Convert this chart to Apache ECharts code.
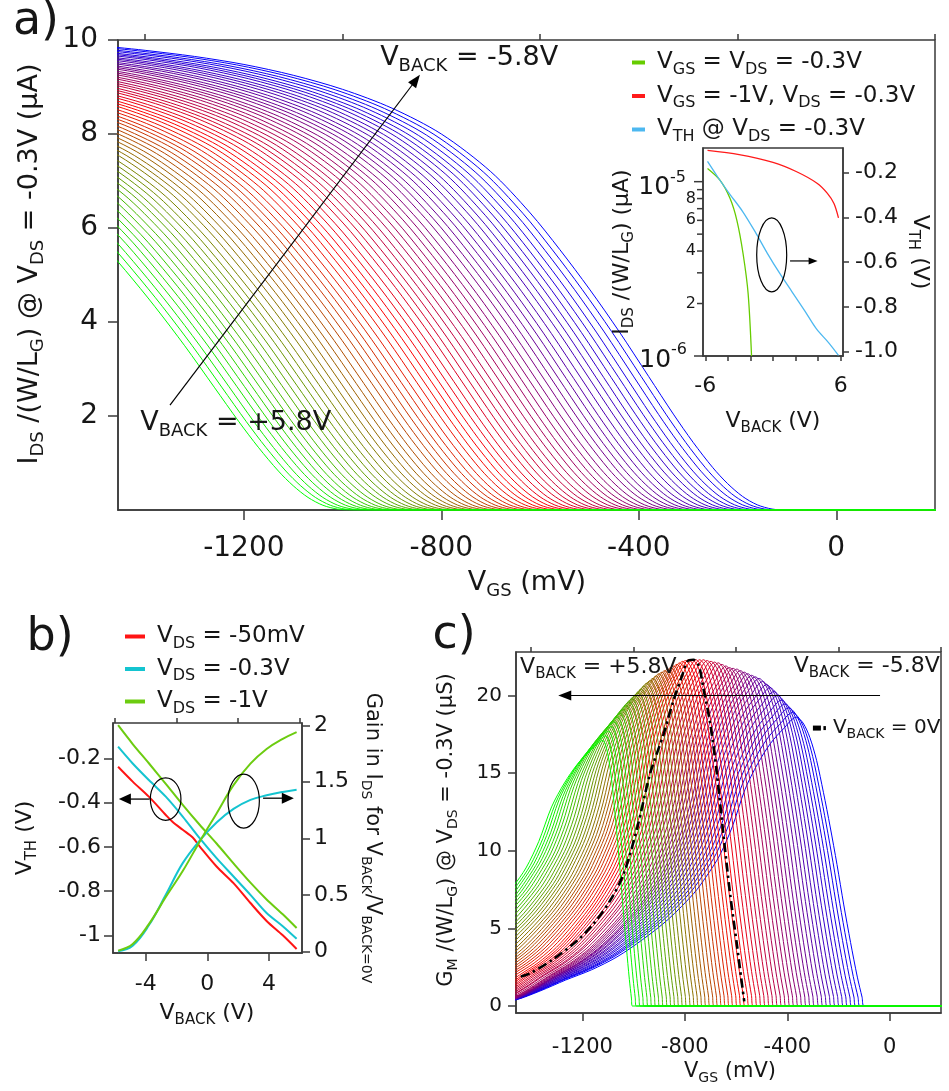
<!DOCTYPE html>
<html><head><meta charset="utf-8">
<script src="https://cdn.jsdelivr.net/npm/echarts@6/dist/echarts.min.js"></script>
<style>html,body{margin:0;padding:0;background:#fff}#chart{width:949px;height:1091px}</style>
</head><body><div id="chart"></div>
<script>
// ================= DATA =================
// back-gate voltages of the curve family (V), green (+5.8) -> red (0) -> blue (-5.8)
const vBack = [5.8,5.6,5.4,5.2,5.0,4.8,4.6,4.4,4.2,4.0,3.8,3.6,3.4,3.2,3.0,2.8,2.6,2.4,2.2,2.0,
  1.8,1.6,1.4,1.2,1.0,0.8,0.6,0.4,0.2,0.0,-0.2,-0.4,-0.6,-0.8,-1.0,-1.2,-1.4,-1.6,-1.8,-2.0,
  -2.2,-2.4,-2.6,-2.8,-3.0,-3.2,-3.4,-3.6,-3.8,-4.0,-4.2,-4.4,-4.6,-4.8,-5.0,-5.2,-5.4,-5.6,-5.8];

// Panel a: I_DS vs V_GS read on the V_BACK=-5.8V (blue) curve (mV, uA)
const aCurveV = [-1500,-1455,-1400,-1300,-1200,-1100,-1000,-900,-800,-700,-620,-560,-500,-440,-380,-330,-290,-250,-220,-190,-160,-130,-100,1200];
const aCurveI = [9.88,9.84,9.78,9.65,9.48,9.25,8.95,8.55,8.00,7.20,6.32,5.54,4.70,3.80,2.84,2.04,1.44,0.90,0.56,0.29,0.11,0.02,0.0,0.0];
// per-curve offset along V_GS relative to the blue curve (mV) and current ratio
const aShift = [-880,-865,-850,-834,-819,-804,-789,-774,-759,-743,
  -728,-713,-698,-683,-668,-652,-637,-622,-607,-592,
  -577,-561,-546,-531,-516,-501,-486,-470,-455,-440,
  -425,-410,-395,-379,-364,-349,-334,-319,-303,-288,
  -273,-258,-243,-228,-212,-197,-182,-167,-152,-137,
  -121,-106,-91,-76,-61,-46,-30,-15,0];
const aGain = [0.920,0.921,0.923,0.924,0.926,0.927,0.928,0.930,0.931,0.932,
  0.934,0.935,0.937,0.938,0.939,0.941,0.942,0.943,0.945,0.946,
  0.948,0.949,0.950,0.952,0.953,0.954,0.956,0.957,0.959,0.960,
  0.961,0.963,0.964,0.966,0.967,0.968,0.970,0.971,0.972,0.974,
  0.975,0.977,0.978,0.979,0.981,0.982,0.983,0.985,0.986,0.988,
  0.989,0.990,0.992,0.993,0.994,0.996,0.997,0.999,1.000];

// Inset of panel a
const insGreenX = [-5.8,-4.7,-3.8,-3.2,-2.65,-2.2,-1.9];
const insGreenI = [1.19e-5,1.02e-5,8.0e-6,6.0e-6,3.86e-6,2.27e-6,1.0e-6];
const insRedX = [-5.8,-3.0,0.0,2.1,3.9,4.8,5.4,5.8];
const insRedI = [1.51e-5,1.43e-5,1.29e-5,1.14e-5,9.8e-6,8.6e-6,7.5e-6,6.2e-6];
const insVthX = [-5.8,-4.85,-3.8,-2.7,-1.6,-0.5,0.6,1.7,2.8,3.85,4.9,5.8];
const insVth = [-0.150,-0.223,-0.298,-0.373,-0.463,-0.561,-0.651,-0.734,-0.817,-0.899,-0.959,-1.017];

// Panel b
const bRedX = [-5.8,-4.85,-3.8,-2.7,-2.25,-1.6,-0.95,-0.5,0.6,1.7,2.8,3.85,4.9,5.8];
const bVthRed = [-0.238,-0.305,-0.373,-0.456,-0.488,-0.523,-0.558,-0.598,-0.689,-0.764,-0.854,-0.935,-1.000,-1.062];
const bX = [-5.8,-4.85,-3.8,-2.7,-1.6,-0.5,0.6,1.7,2.8,3.85,4.9,5.8];
const bVthCyan = [-0.147,-0.223,-0.298,-0.373,-0.463,-0.561,-0.651,-0.734,-0.817,-0.899,-0.959,-1.016];
const bVthGreen = [-0.050,-0.135,-0.222,-0.315,-0.410,-0.500,-0.585,-0.675,-0.762,-0.838,-0.905,-0.967];
const bGainGreen = [0.006,0.065,0.24,0.48,0.71,0.97,1.22,1.47,1.66,1.79,1.88,1.94];
const bGainCyan = [0.0,0.05,0.23,0.50,0.78,0.98,1.14,1.26,1.34,1.38,1.41,1.43];

// Panel c: per-curve zero point, peak position and peak height of G_M
const cZero = [-1005,-990,-975,-960,-944,-929,-914,-899,-884,-868,
  -853,-838,-823,-808,-793,-777,-762,-747,-732,-717,
  -702,-686,-671,-656,-641,-626,-611,-595,-580,-565,
  -549,-533,-517,-501,-485,-469,-453,-437,-421,-405,
  -389,-373,-357,-341,-325,-309,-293,-276,-260,-244,
  -228,-212,-196,-180,-164,-148,-132,-116,-100];
const cPeakV = [-1120,-1108,-1097,-1085,-1074,-1062,-1051,-1039,-1028,-1016,
  -1005,-993,-981,-970,-958,-947,-935,-924,-912,-901,
  -889,-878,-866,-854,-843,-831,-820,-808,-797,-785,
  -771,-756,-742,-727,-713,-698,-684,-669,-655,-640,
  -626,-612,-597,-583,-568,-554,-539,-525,-510,-496,
  -481,-467,-452,-438,-423,-409,-394,-380,-365];
const cPeakH = [17.1,17.4,17.7,18.0,18.3,18.6,18.85,19.1,19.35,19.6,
  19.8,20.0,20.2,20.4,20.6,20.8,20.95,21.1,21.25,21.4,
  21.5,21.6,21.7,21.8,21.9,22.0,22.1,22.2,22.25,22.3,
  22.3,22.3,22.3,22.3,22.25,22.2,22.15,22.1,22.0,21.9,
  21.8,21.75,21.7,21.6,21.5,21.4,21.3,21.2,21.1,20.9,
  20.7,20.5,20.25,20.0,19.7,19.45,19.2,18.9,18.6];
const cLeftW = [1.00,0.985,0.97,0.955,0.94,0.925,0.91,0.895,0.88,0.865,
  0.85,0.84,0.83,0.82,0.81,0.80,0.79,0.78,0.775,0.765,
  0.76,0.755,0.75,0.745,0.74,0.735,0.73,0.725,0.72,0.72,
  0.725,0.73,0.735,0.74,0.745,0.75,0.755,0.76,0.77,0.775,
  0.78,0.79,0.80,0.81,0.82,0.835,0.85,0.86,0.875,0.885,
  0.90,0.91,0.925,0.935,0.95,0.96,0.975,0.99,1.00];
// shared G_M shape read on the curves: falling edge (fraction of peak->zero span) and left flank (mV before peak)
const cEdgeT = [0,0.03,0.1,0.2,0.3,0.4,0.5,0.6,0.7,0.8,0.9,1.0];
const cEdgeG = [0,0.03,0.1,0.22,0.35,0.49,0.62,0.74,0.85,0.93,0.98,1.0];
const cLeftD = [0,50,100,150,200,250,300,350,400,500,600,700,800,900,1000,1100,1200,1400];
const cLeftG = [1,0.96,0.91,0.84,0.75,0.62,0.52,0.45,0.39,0.30,0.23,0.17,0.125,0.09,0.052,0.02,0.01,0.0];
// V_BACK = 0V curve (dash-dot)
const dashV = [-1440,-1404,-1315,-1221,-1156,-1091,-1039,-987,-935,-883,-844,-810,-790,-766,-745,-728,-701,-675,-649,-623,-597,-580,-568];
const dashG = [1.9,2.1,3.0,4.2,5.3,6.8,8.5,11.4,15.0,17.5,19.7,21.3,22.2,22.3,21.9,20.5,18.2,15.0,11.0,7.2,4.0,1.8,0.3];

// ================= STYLE =================
const FONT = 'DejaVu Sans';
const TXT = '#161616';
const AXC = '#3a3a3a';
function rich(F) {
  return {
    n: {fontFamily: FONT, fontSize: F, fill: TXT, color: TXT, verticalAlign: 'middle'},
    s: {fontFamily: FONT, fontSize: Math.round(F * 0.68), fill: TXT, color: TXT, verticalAlign: 'middle', padding: [Math.round(F * 0.62), 0, 0, 0]},
    p: {fontFamily: FONT, fontSize: Math.round(F * 0.64), fill: TXT, color: TXT, verticalAlign: 'middle', padding: [0, 0, Math.round(F * 0.8), 0]}
  };
}
function famColor(k) {
  const t = k / 58; let r, g, b;
  if (t <= 0.5) { const u = t / 0.5; r = 255 * u; g = 255 * (1 - u); b = 0; }
  else { const u = (t - 0.5) / 0.5; r = 255 * (1 - u); g = 0; b = 255 * u; }
  return 'rgb(' + Math.round(r) + ',' + Math.round(g) + ',' + Math.round(b) + ')';
}
function valAxis(o) {
  return Object.assign({
    type: 'value', scale: false,
    axisLine: {show: true, onZero: false, lineStyle: {color: AXC, width: 1.5}},
    axisTick: {show: true, lineStyle: {color: AXC, width: 1.5}},
    axisLabel: {show: true, color: TXT, fontFamily: FONT},
    splitLine: {show: false}
  }, o);
}
function ticks(vals, len) { return {show: true, customValues: vals, length: len, lineStyle: {color: AXC, width: 1.5}}; }
function labels(vals, size, margin, fmt) {
  return {show: true, customValues: vals, fontSize: size, margin: margin, color: TXT, fontFamily: FONT,
    formatter: fmt || (v => String(v))};
}
const noLabel = {show: false};
const noLine = {show: false, onZero: false};

const chart = echarts.init(document.getElementById('chart'), null, {renderer: 'canvas'});

const xAxis = [
  valAxis({gridIndex: 0, min: -1455, max: 200, axisTick: ticks([-1200,-800,-400,0], 10), axisLabel: labels([-1200,-800,-400,0], 28, 25)}),
  valAxis({gridIndex: 0, min: -1455, max: 200, axisLine: noLine, axisTick: ticks([-1400,-1000,-600,-200,200], 6), axisLabel: noLabel}),
  valAxis({gridIndex: 1, min: -6.2, max: 6.2, axisTick: ticks([-6,-4,-2,0,2,4,6], 5), axisLabel: labels([-6,6], 22, 19)}),
  valAxis({gridIndex: 2, min: -6.13, max: 6.15, axisTick: ticks([-4,0,4], 8), axisLabel: labels([-4,0,4], 22, 20)}),
  valAxis({gridIndex: 2, min: -6.13, max: 6.15, axisLine: noLine, axisTick: ticks([-6,-2,2,6], 5), axisLabel: noLabel}),
  valAxis({gridIndex: 3, min: -1459, max: 200, axisTick: ticks([-1200,-800,-400,0], 8), axisLabel: labels([-1200,-800,-400,0], 21, 24)}),
  valAxis({gridIndex: 3, min: -1459, max: 200, axisLine: noLine, axisTick: ticks([-1400,-1000,-600,-200,200], 5), axisLabel: noLabel})
];
const yAxis = [
  valAxis({gridIndex: 0, min: 0, max: 10, axisTick: ticks([2,4,6,8,10], 10), axisLabel: labels([2,4,6,8,10], 28, 20)}),
  {gridIndex: 1, type: 'log', logBase: 10, min: 1e-6, max: 1.56e-5, axisLine: {show: true, onZero: false, lineStyle: {color: AXC, width: 1.5}}, axisTick: {show: false}, axisLabel: {show: false}, splitLine: {show: false}, minorTick: {show: false}},
  valAxis({gridIndex: 1, position: 'right', min: -1.02, max: -0.09, axisTick: ticks([-1,-0.8,-0.6,-0.4,-0.2], 6), axisLabel: labels([-1,-0.8,-0.6,-0.4,-0.2], 22, 12, v => v.toFixed(1))}),
  valAxis({gridIndex: 2, min: -1.08, max: -0.04, axisTick: ticks([-1,-0.8,-0.6,-0.4,-0.2], 9), axisLabel: labels([-1,-0.8,-0.6,-0.4,-0.2], 22, 12, v => (v === -1 ? '-1' : v.toFixed(1)))}),
  valAxis({gridIndex: 2, position: 'right', min: -0.015, max: 2.02, axisTick: ticks([0,0.5,1,1.5,2], 8), axisLabel: labels([0,0.5,1,1.5,2], 22, 12)}),
  valAxis({gridIndex: 3, min: -0.45, max: 22.8, axisTick: ticks([0,5,10,15,20], 8), axisLabel: labels([0,5,10,15,20], 20, 14)})
];

const series = [];
// Panel a family (blue first so green is on top)
for (let k = 58; k >= 0; k--) {
  series.push({
    type: 'line', name: 'a_' + vBack[k], xAxisIndex: 0, yAxisIndex: 0, silent: true,
    data: aCurveV.map((v, j) => [v + aShift[k], aCurveI[j] * aGain[k]]),
    symbol: 'none', smooth: 0.3, lineStyle: {width: 1, color: famColor(k)}, z: 2
  });
}
// Inset
const LEG_A = {
  'VGS = VDS = -0.3V': '{n|V}{s|GS}{n| = V}{s|DS}{n| = -0.3V}',
  'VGS = -1V, VDS = -0.3V': '{n|V}{s|GS}{n| = -1V, V}{s|DS}{n| = -0.3V}',
  'VTH @ VDS = -0.3V': '{n|V}{s|TH}{n| @ V}{s|DS}{n| = -0.3V}'
};
series.push({type: 'line', name: 'VGS = VDS = -0.3V', xAxisIndex: 2, yAxisIndex: 1, silent: true, color: '#66cc00',
  data: insGreenX.map((x, i) => [x, insGreenI[i]]), symbol: 'none', smooth: 0.3, lineStyle: {width: 1.3, color: '#66cc00'}, z: 3});
series.push({type: 'line', name: 'VGS = -1V, VDS = -0.3V', xAxisIndex: 2, yAxisIndex: 1, silent: true, color: '#ff1a1a',
  data: insRedX.map((x, i) => [x, insRedI[i]]), symbol: 'none', smooth: 0.3, lineStyle: {width: 1.3, color: '#ff1a1a'}, z: 3});
series.push({type: 'line', name: 'VTH @ VDS = -0.3V', xAxisIndex: 2, yAxisIndex: 2, silent: true, color: '#4db8f0',
  data: insVthX.map((x, i) => [x, insVth[i]]), symbol: 'none', smooth: 0.3, lineStyle: {width: 1.3, color: '#4db8f0'}, z: 3});
// Panel b
const LEG_B = {
  'VDS = -50mV': '{n|V}{s|DS}{n| = -50mV}',
  'VDS = -0.3V': '{n|V}{s|DS}{n| = -0.3V}',
  'VDS = -1V': '{n|V}{s|DS}{n| = -1V}'
};
const bRed = '#ff1414', bCyan = '#14c4d0', bGreen = '#6ccc10';
series.push({type: 'line', name: 'VDS = -50mV', xAxisIndex: 3, yAxisIndex: 3, silent: true, color: bRed,
  data: bRedX.map((x, i) => [x, bVthRed[i]]), symbol: 'none', smooth: 0.3, lineStyle: {width: 2, color: bRed}, z: 3});
series.push({type: 'line', name: 'VDS = -0.3V', xAxisIndex: 3, yAxisIndex: 3, silent: true, color: bCyan,
  data: bX.map((x, i) => [x, bVthCyan[i]]), symbol: 'none', smooth: 0.3, lineStyle: {width: 2, color: bCyan}, z: 3});
series.push({type: 'line', name: 'VDS = -1V', xAxisIndex: 3, yAxisIndex: 3, silent: true, color: bGreen,
  data: bX.map((x, i) => [x, bVthGreen[i]]), symbol: 'none', smooth: 0.3, lineStyle: {width: 2, color: bGreen}, z: 3});
series.push({type: 'line', name: 'VDS = -0.3V', xAxisIndex: 3, yAxisIndex: 4, silent: true, color: bCyan,
  data: bX.map((x, i) => [x, bGainCyan[i]]), symbol: 'none', smooth: 0.4, lineStyle: {width: 2, color: bCyan}, z: 3});
series.push({type: 'line', name: 'VDS = -1V', xAxisIndex: 3, yAxisIndex: 4, silent: true, color: bGreen,
  data: bX.map((x, i) => [x, bGainGreen[i]]), symbol: 'none', smooth: 0.4, lineStyle: {width: 2, color: bGreen}, z: 3});
// Panel c family
for (let k = 58; k >= 0; k--) {
  const pts = [];
  for (let j = cLeftD.length - 1; j >= 1; j--) pts.push([cPeakV[k] - cLeftD[j] * cLeftW[k], cPeakH[k] * cLeftG[j]]);
  pts.push([cPeakV[k], cPeakH[k]]);
  for (let j = cEdgeT.length - 2; j >= 0; j--) pts.push([cZero[k] - cEdgeT[j] * (cZero[k] - cPeakV[k]), cPeakH[k] * cEdgeG[j]]);
  pts.push([260, 0]);
  series.push({type: 'line', name: 'c_' + vBack[k], xAxisIndex: 5, yAxisIndex: 5, silent: true,
    data: pts, symbol: 'none', smooth: 0.3, lineStyle: {width: 1, color: famColor(k)}, z: 2});
}
series.push({type: 'line', name: 'VBACK = 0V', xAxisIndex: 5, yAxisIndex: 5, silent: true,
  data: dashV.map((v, i) => [v, dashG[i]]), symbol: 'none', smooth: 0.3,
  lineStyle: {width: 2.6, color: '#000', type: [9, 4, 2.5, 4]}, z: 5});

const option = {
  animation: false,
  backgroundColor: '#fff',
  grid: [
    {left: 118, top: 40, width: 817, height: 470, show: true, borderColor: AXC, borderWidth: 1.5, backgroundColor: 'transparent', containLabel: false},
    {left: 703, top: 148, width: 140, height: 208, show: true, borderColor: AXC, borderWidth: 1.5, backgroundColor: '#fff', containLabel: false},
    {left: 113, top: 723, width: 189, height: 230, show: true, borderColor: AXC, borderWidth: 1.5, containLabel: false},
    {left: 516, top: 652, width: 425, height: 361, show: true, borderColor: AXC, borderWidth: 1.5, containLabel: false}
  ],
  xAxis: xAxis, yAxis: yAxis,
  legend: [
    {data: Object.keys(LEG_A), orient: 'vertical', left: 632, top: 51, padding: 0, itemGap: 7, itemWidth: 13, itemHeight: 4,
      icon: 'rect', selectedMode: false, formatter: n => LEG_A[n],
      textStyle: {fontFamily: FONT, fontSize: 23, color: TXT, padding: [0, 0, 0, 7], rich: rich(23)}},
    {data: Object.keys(LEG_B), orient: 'vertical', left: 125, top: 625, padding: 0, itemGap: 6, itemWidth: 20, itemHeight: 4,
      icon: 'rect', selectedMode: false, formatter: n => LEG_B[n],
      textStyle: {fontFamily: FONT, fontSize: 23, color: TXT, padding: [0, 0, 0, 7], rich: rich(23)}}
  ],
  series: series
};
chart.setOption(option);

// ================= annotations (positioned through the axes) =================
function P(xi, yi, x, y) { return chart.convertToPixel({xAxisIndex: xi, yAxisIndex: yi}, [x, y]); }
function text(x, y, str, F, align, rot) {
  return {type: 'text', x: x, y: y, rotation: rot || 0, z: 100, silent: true,
    style: {text: str, rich: rich(F), fontFamily: FONT, fontSize: F, fill: TXT, align: align || 'center', verticalAlign: 'middle'}};
}
function arrow(from, tip, len, hw, w) {
  const dx = tip[0] - from[0], dy = tip[1] - from[1], L = Math.hypot(dx, dy), ux = dx / L, uy = dy / L;
  const bx = tip[0] - ux * len, by = tip[1] - uy * len;
  return [
    {type: 'line', z: 100, silent: true, shape: {x1: from[0], y1: from[1], x2: tip[0] - ux * len * 0.6, y2: tip[1] - uy * len * 0.6}, style: {stroke: '#000', lineWidth: w}},
    {type: 'polygon', z: 100, silent: true, shape: {points: [[tip[0], tip[1]], [bx - uy * hw, by + ux * hw], [bx + uy * hw, by - ux * hw]]}, style: {fill: '#000'}}
  ];
}
function ellipse(c, rx, ry) {
  return {type: 'ellipse', z: 100, silent: true, shape: {cx: c[0], cy: c[1], rx: rx, ry: ry}, style: {fill: null, stroke: '#000', lineWidth: 1.2}};
}
const g = [];
// panel labels
g.push(text(36, 22, '{n|a)}', 46, 'center'));
g.push(text(50, 638, '{n|b)}', 46, 'center'));
g.push(text(454, 636, '{n|c)}', 46, 'center'));
// panel a axis names and annotations
g.push(text(527, 583, '{n|V}{s|GS}{n| (mV)}', 27));
g.push(text(30, 264, '{n|I}{s|DS}{n| /(W/L}{s|G}{n|) @ V}{s|DS}{n| = -0.3V (µA)}', 27, 'center', Math.PI / 2));
let p = P(0, 0, -924, 9.62); g.push(text(p[0], p[1], '{n|V}{s|BACK}{n| = -5.8V}', 27, 'left'));
p = P(0, 0, -1410, 1.85); g.push(text(p[0], p[1], '{n|V}{s|BACK}{n| = +5.8V}', 27, 'left'));
g.push(...arrow(P(0, 0, -1349.7, 2.23), P(0, 0, -843.4, 9.26), 13, 5, 1.2));
// inset
g.push(text(773, 421, '{n|V}{s|BACK}{n| (V)}', 22));
g.push(text(622, 252, '{n|I}{s|DS}{n| /(W/L}{s|G}{n|) (µA)}', 22, 'center', Math.PI / 2));
g.push(text(920, 252, '{n|V}{s|TH}{n| (V)}', 22, 'center', -Math.PI / 2));
const insLeft = P(2, 1, -6.2, 1e-5)[0];
[1e-6, 2e-6, 3e-6, 4e-6, 5e-6, 6e-6, 7e-6, 8e-6, 9e-6, 1e-5].forEach(v => {
  const y = P(2, 1, 0, v)[1];
  const major = (v === 1e-5 || v === 1e-6);
  const len = major ? 9 : 6;
  g.push({type: 'line', z: 100, silent: true, shape: {x1: insLeft - len, y1: y, x2: insLeft, y2: y}, style: {stroke: AXC, lineWidth: 1.5}});
  if (!major && [2e-6, 4e-6, 6e-6, 8e-6].indexOf(v) >= 0) g.push(text(insLeft - 7, y, '{n|' + Math.round(v * 1e6) + '}', 16, 'right'));
});
p = P(2, 1, 0, 1e-5); g.push(text(insLeft - 17, p[1] + 6, '{n|10}{p|-5}', 25, 'right'));
p = P(2, 1, 0, 1e-6); g.push(text(insLeft - 16, p[1] + 4, '{n|10}{p|-6}', 25, 'right'));
g.push(ellipse(P(2, 2, -0.115, -0.568), 15, 37));
g.push(...arrow(P(2, 2, 1.51, -0.595), P(2, 2, 3.95, -0.595), 9, 3.5, 1.2));
// panel b
g.push(text(207, 1013, '{n|V}{s|BACK}{n| (V)}', 22));
g.push(text(25, 838, '{n|V}{s|TH}{n| (V)}', 22, 'center', Math.PI / 2));
g.push(text(372, 838, '{n|Gain in I}{s|DS}{n| for V}{s|BACK}{n|/V}{s|BACK=0V}', 21, 'center', -Math.PI / 2));
g.push(ellipse(P(3, 3, -2.71, -0.384), 15.3, 21.3));
g.push(...arrow(P(3, 3, -3.75, -0.384), P(3, 3, -5.75, -0.384), 12, 5.5, 1.3));
g.push(ellipse(P(3, 3, 2.36, -0.393), 15.7, 27));
g.push(...arrow(P(3, 3, 3.62, -0.380), P(3, 3, 5.62, -0.380), 12, 5.5, 1.3));
// panel c
g.push(text(730, 1072, '{n|V}{s|GS}{n| (mV)}', 21));
g.push(text(447, 830, '{n|G}{s|M}{n| /(W/L}{s|G}{n|) @ V}{s|DS}{n| = -0.3V (µS)}', 21, 'center', Math.PI / 2));
p = P(5, 5, -1443, 21.8); g.push(text(p[0], p[1], '{n|V}{s|BACK}{n| = +5.8V}', 22, 'left'));
p = P(5, 5, 195, 21.9); g.push(text(p[0], p[1], '{n|V}{s|BACK}{n| = -5.8V}', 22, 'right'));
g.push(...arrow(P(5, 5, -38, 20), P(5, 5, -1294, 20), 13, 5, 1.2));
p = P(5, 5, -300, 17.9);
g.push({type: 'rect', z: 100, silent: true, shape: {x: p[0], y: p[1] - 2.5, width: 8, height: 5}, style: {fill: '#000'}});
g.push({type: 'rect', z: 100, silent: true, shape: {x: p[0] + 10.5, y: p[1] - 2, width: 2.5, height: 4}, style: {fill: '#000'}});
g.push(text(p[0] + 20, p[1], '{n|V}{s|BACK}{n| = 0V}', 20, 'left'));

chart.setOption({graphic: g});
</script>
</body></html>
